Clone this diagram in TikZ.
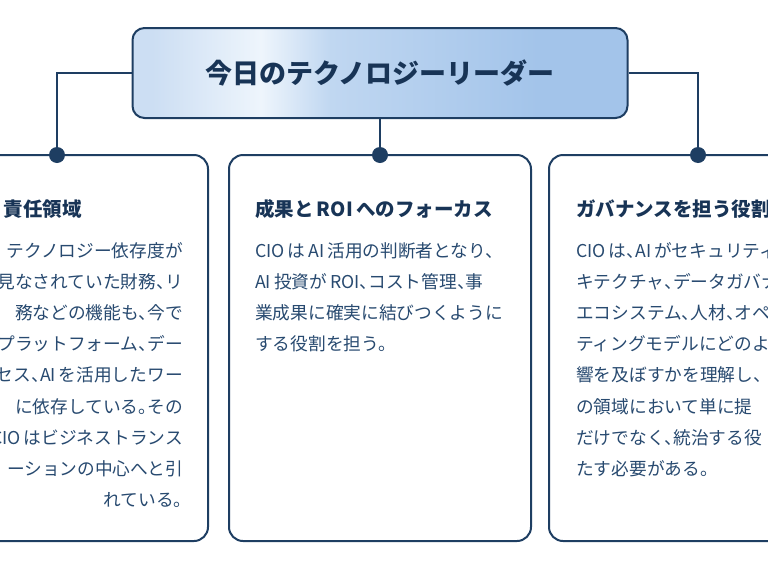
\documentclass[tikz,border=0pt]{standalone}
\usepackage{fontspec}
\setmainfont{Noto Sans CJK JP}
\newfontfamily\cardfont[RawFeature=+halt]{Noto Sans CJK JP}
\definecolor{navy}{RGB}{30,62,98}
\definecolor{bodyblue}{RGB}{40,74,112}
\definecolor{headblue}{RGB}{24,52,86}
\definecolor{skyA}{RGB}{204,222,243}
\definecolor{skyW}{RGB}{238,245,252}
\definecolor{skyM}{RGB}{192,215,241}
\definecolor{skyB}{RGB}{163,196,234}
\pgfdeclarehorizontalshading{leaderglow}{100bp}{color(0bp)=(skyA); color(27bp)=(skyA);
  color(38bp)=(skyW); color(45bp)=(skyM); color(66bp)=(skyB); color(100bp)=(skyB)}
\tikzset{
  card/.style={draw=navy, line width=2pt, rounded corners=14pt, fill=white,
    minimum width=302pt, minimum height=386pt, inner sep=0pt},
  dot/.style={circle, fill=navy, minimum size=16pt, inner sep=0pt},
  wire/.style={draw=navy, line width=2pt},
  cardtitle/.style={font=\cardfont\bfseries\fontsize{19.5}{22}\selectfont, text=headblue, inner sep=0pt},
  cardbody/.style={font=\cardfont\fontsize{17.7}{31.2}\selectfont, text=bodyblue, inner sep=0pt}
}
\begin{document}
\begin{tikzpicture}[x=1pt,y=-1pt]
            \useasboundingbox (0,0) rectangle (768,576);
            \clip (0,0) rectangle (768,576);
            \node[draw=navy, line width=2pt, rounded corners=12pt, shading=leaderglow,
                  minimum width=495pt, minimum height=90pt,
                  font=\bfseries\fontsize{27}{30}\selectfont, text=headblue]
                  (leader) at (380,73) {今日のテクノロジーリーダー};
            \node[card] (boxL) at (57,348) {};
            \node[card] (boxM) at (380,348) {};
            \node[card] (boxR) at (700,348) {};
            \node[dot] (dotL) at (57,155) {};
            \node[dot] (dotM) at (380,155) {};
            \node[dot] (dotR) at (698,155) {};
            \draw[wire] (leader.west) -| (dotL);
            \draw[wire] (leader.south) -- (dotM);
            \draw[wire] (leader.east) -| (dotR);
            % left card, cut at the page edge
            \node[cardtitle, anchor=base east] (titleL) at (82,216) {責任領域};
            \node[cardbody, anchor=north east, align=right] (bodyL) at (183,242)
                {テクノロジー依存度が\\見なされていた財務、リ\\務などの機能も、今で\\なプラットフォーム、デー\\セス、AI\,を活用したワー\\に依存している。その\\CIO\,はビジネストランス\\ーションの中心へと引\\れている。};
            % middle card
            \node[cardtitle, anchor=base west] (titleM) at (255,216) {成果と\,ROI\,へのフォーカス};
            \node[cardbody, anchor=north west, align=left] (bodyM) at (255,242)
                {CIO\,は\,AI\,活用の判断者となり、\\AI\,投資が\,ROI、コスト管理、事\\業成果に確実に結びつくように\\する役割を担う。};
            % right card, cut at the page edge
            \node[cardtitle, anchor=base west] (titleR) at (576,216) {ガバナンスを担う役割};
            \node[cardbody, anchor=north west, align=left] (bodyR) at (576,242)
                {CIO\,は、AI\,がセキュリティ\\キテクチャ、データガバナ\\エコシステム、人材、オペ\\ティングモデルにどのよ\\響を及ぼすかを理解し、\\の領域において単に提\\だけでなく、統治する役\\たす必要がある。};
\end{tikzpicture}
\end{document}
